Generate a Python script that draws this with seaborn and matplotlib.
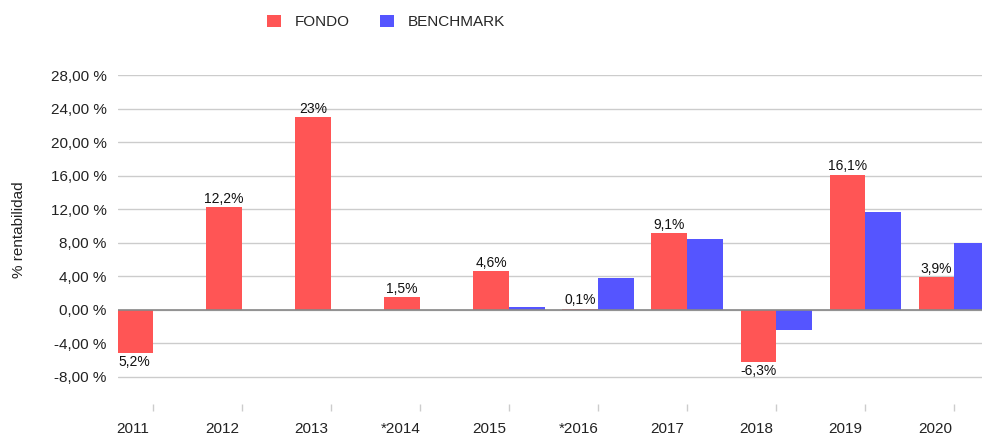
import numpy as np
import pandas as pd
import seaborn as sns
import matplotlib.pyplot as plt
from matplotlib.ticker import FuncFormatter

years = ['2011', '2012', '2013', '*2014', '2015', '*2016', '2017', '2018', '2019', '2020']
fondo = [-5.2, 12.2, 23.0, 1.5, 4.6, 0.1, 9.1, -6.3, 16.1, 3.9]
benchmark = [np.nan, np.nan, np.nan, np.nan, 0.3, 3.8, 8.4, -2.4, 11.7, 8.0]
fondo_labels = ['5,2%', '12,2%', '23%', '1,5%', '4,6%', '0,1%', '9,1%', '-6,3%', '16,1%', '3,9%']

df = pd.DataFrame({
    'year': years * 2,
    'value': fondo + benchmark,
    'serie': ['FONDO'] * len(years) + ['BENCHMARK'] * len(years),
})

sns.set_theme(style='whitegrid')
plt.rcParams['font.family'] = ['Liberation Sans', 'DejaVu Sans']

fig = plt.figure(figsize=(9.82, 4.37), dpi=100)
ax = fig.add_axes([0.12, 0.075, 0.88, 0.753])

sns.barplot(data=df, x='year', y='value', hue='serie', order=years,
            palette={'FONDO': '#ff5555', 'BENCHMARK': '#5555ff'},
            saturation=1, width=0.8, linewidth=0, edgecolor='none',
            ax=ax, legend=True)

# value labels only on the fund bars
ax.bar_label(ax.containers[0], labels=fondo_labels, padding=1, fontsize=10, color='#111111')

ax.set_ylim(-11.3, 28)
ax.set_xlim(-0.39, 9.31)
ax.set_yticks(np.arange(-8, 29, 4))
ax.yaxis.set_major_formatter(FuncFormatter(lambda v, p: f'{v:.2f} %'.replace('.', ',')))
ax.tick_params(axis='y', labelsize=11, colors='#222222', pad=8, length=0)

# labels under the fund bar, small tick marks at the group centre
ax.set_xticks(np.arange(len(years)) - 0.22)
ax.set_xticklabels(years)
ax.set_xticks(np.arange(len(years)), minor=True)
ax.tick_params(axis='x', which='major', length=0, labelsize=11, colors='#222222', pad=13)
ax.tick_params(axis='x', which='minor', bottom=True, length=5, width=1, color='#cccccc')
ax.xaxis.grid(False)
ax.yaxis.grid(True, color='#cccccc', linewidth=1)
ax.axhline(0, color='#888888', linewidth=1.2, zorder=1)

for s in ax.spines.values():
    s.set_visible(False)

ax.set_xlabel('')
ax.set_ylabel('% rentabilidad', fontsize=11, color='#222222')
ax.yaxis.set_label_coords(-0.106, 0.53)

handles, labels = ax.get_legend_handles_labels()
ax.get_legend().remove()
fig.legend(handles, labels, loc='center', bbox_to_anchor=(0.393, 0.95), ncol=2,
           frameon=False, fontsize=11, handlelength=0.9, handleheight=0.9,
           columnspacing=2.0, handletextpad=0.9)

fig.savefig('out.png', dpi=100)
